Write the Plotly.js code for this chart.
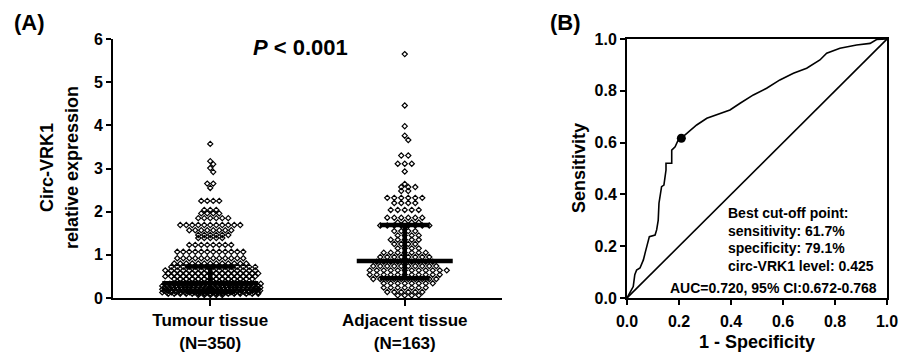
<!DOCTYPE html>
<html><head><meta charset="utf-8">
<script src="https://cdn.plot.ly/plotly-3.0.1.min.js"></script>
<style>html,body{margin:0;padding:0;background:#fff}#chart{width:899px;height:356px}</style>
</head><body><div id="chart"></div>
<script>
// ---------- Data ----------
const groupLabels = ['Tumour tissue<br>(N=350)', 'Adjacent tissue<br>(N=163)'];
const yTicksA = [0, 1, 2, 3, 4, 5, 6];
const yTicksB = [0, 0.2, 0.4, 0.6, 0.8, 1.0];
// scatter rows: value levels and number of dots at each level
const tumourLevels = [3.57,3.17,3.10,3.01,2.92,2.65,2.55,2.25,2.04,1.96,1.85,1.69,1.57,1.46,1.39,1.23,1.07,0.92,0.80,0.72,0.64,0.57,0.50,0.44,0.38,0.33,0.28,0.24,0.20,0.17,0.13,0.10,0.07];
const tumourCounts = [1,1,1,1,1,2,1,4,3,4,6,11,8,6,5,8,12,12,13,15,16,16,16,14,12,20,22,24,26,26,22,16,5];
const adjacentLevels = [5.65,4.46,3.98,3.76,3.66,3.30,3.11,2.93,2.64,2.57,2.48,2.32,2.20,2.04,1.86,1.75,1.68,1.55,1.45,1.35,1.25,1.15,1.05,0.95,0.84,0.74,0.64,0.54,0.44,0.34,0.24,0.14,0.06];
const adjacentCounts = [1,1,1,1,1,2,3,1,1,3,2,6,4,5,6,4,8,4,4,5,4,4,7,8,9,10,12,11,10,8,7,6,4];
// median with interquartile range
const medians = [0.34, 0.86];
const lowerQ = [0.14, 0.46];
const upperQ = [0.73, 1.69];
// ROC curve
const rocFPR = [0,0.012,0.024,0.03,0.037,0.05,0.063,0.07,0.076,0.086,0.108,0.114,0.12,0.123,0.133,0.142,0.15,0.15,0.172,0.172,0.185,0.197,0.209,0.23,0.268,0.307,0.358,0.396,0.435,0.486,0.537,0.588,0.64,0.691,0.742,0.768,0.819,0.883,0.935,0.96,1];
const rocTPR = [0,0.02,0.044,0.09,0.108,0.116,0.147,0.175,0.198,0.237,0.243,0.263,0.30,0.366,0.43,0.436,0.494,0.52,0.52,0.571,0.584,0.61,0.617,0.636,0.668,0.694,0.713,0.726,0.752,0.784,0.81,0.842,0.868,0.887,0.919,0.945,0.964,0.977,0.983,0.998,1];
const refLine = [0, 1];
const cutoffFPR = [0.209];
const cutoffTPR = [0.617];
const noteLines = ['Best cut-off point:', 'sensitivity: 61.7%', 'specificity: 79.1%', 'circ-VRK1 level: 0.425'];
const aucText = 'AUC=0.720, 95% CI:0.672-0.768';

// ---------- Layout geometry ----------
const W = 899, H = 356;
const FONT = 'Arial, "Liberation Sans", Helvetica, sans-serif';
const aX = [113, 502], aRange = [-0.5, 1.5];
const plotY = [39, 298];
const bX = [627, 887];
const pxPerUnitX = (aX[1]-aX[0])/(aRange[1]-aRange[0]);
const pxPerUnitY = (plotY[1]-plotY[0])/6;
const fx = p => p / W, fy = p => 1 - p / H;
const bold = s => '<b>' + s + '</b>';

function swarm(levels, counts, center, maxHalfPx, spacingPx, markerPx) {
  const xs = [], ys = [];
  let prevV = null, prevN = null, prevShift = 0;
  for (let k = 0; k < levels.length; k++) {
    const n = counts[k], v = levels[k];
    const s = n > 1 ? Math.min(spacingPx, 2*maxHalfPx/(n-1)) : spacingPx;
    let shift = 0;
    if (prevV !== null && Math.abs(v - prevV)*pxPerUnitY < markerPx && (n % 2) === (prevN % 2) && prevShift === 0) shift = s/2;
    for (let i = 0; i < n; i++) {
      xs.push(center + ((i - (n-1)/2)*s + shift)/pxPerUnitX);
      ys.push(v);
    }
    prevV = v; prevN = n; prevShift = shift;
  }
  return {xs, ys};
}
const t = swarm(tumourLevels, tumourCounts, 0, 48, 6, 5);
const a = swarm(adjacentLevels, adjacentCounts, 1, 48, 7, 5);

// median / IQR bars
const medHalf = 48/pxPerUnitX, capHalf = 25/pxPerUnitX;
const barX = [], barY = [];
[0,1].forEach(g => {
  barX.push(g-medHalf, g+medHalf, null, g-capHalf, g+capHalf, null, g-capHalf, g+capHalf, null, g, g, null);
  barY.push(medians[g], medians[g], null, lowerQ[g], lowerQ[g], null, upperQ[g], upperQ[g], null, lowerQ[g], upperQ[g], null);
});

const dotMarker = {symbol: 'diamond-open', size: 4, color: '#000', line: {width: 1.2, color: '#000'}};
const traces = [
  {x: t.xs, y: t.ys, type: 'scatter', mode: 'markers', marker: dotMarker, xaxis: 'x', yaxis: 'y', hoverinfo: 'y'},
  {x: a.xs, y: a.ys, type: 'scatter', mode: 'markers', marker: dotMarker, xaxis: 'x', yaxis: 'y', hoverinfo: 'y'},
  {x: barX, y: barY, type: 'scatter', mode: 'lines', line: {color: '#000', width: 4.5}, xaxis: 'x', yaxis: 'y', connectgaps: false, hoverinfo: 'skip'},
  {x: refLine, y: refLine, type: 'scatter', mode: 'lines', line: {color: '#000', width: 1.6}, xaxis: 'x2', yaxis: 'y2', hoverinfo: 'skip'},
  {x: rocFPR, y: rocTPR, type: 'scatter', mode: 'lines', line: {color: '#000', width: 1.6}, xaxis: 'x2', yaxis: 'y2'},
  {x: cutoffFPR, y: cutoffTPR, type: 'scatter', mode: 'markers', marker: {color: '#000', size: 9}, xaxis: 'x2', yaxis: 'y2'}
];

const axisCommon = {
  showline: true, linecolor: '#000', linewidth: 2, ticks: 'outside', ticklen: 5, tickwidth: 2, tickcolor: '#000',
  showgrid: false, zeroline: false, fixedrange: true,
  tickfont: {family: FONT, size: 16, color: '#000'}
};
const yDom = [fy(plotY[1]), fy(plotY[0])];
const layout = {
  width: W, height: H, margin: {l: 0, r: 0, t: 0, b: 0}, showlegend: false,
  paper_bgcolor: '#fff', plot_bgcolor: 'rgba(0,0,0,0)',
  font: {family: FONT, color: '#000'},
  xaxis: Object.assign({}, axisCommon, {domain: [fx(aX[0]), fx(aX[1])], range: aRange, tickvals: [0,1], ticktext: groupLabels.map(bold), ticklen: 6, anchor: 'y',
    tickfont: {family: FONT, size: 17, color: '#000'}}),
  yaxis: Object.assign({}, axisCommon, {domain: yDom, range: [0, 6], tickvals: yTicksA, ticktext: yTicksA.map(v => bold(String(v))), anchor: 'x'}),
  xaxis2: Object.assign({}, axisCommon, {domain: [fx(bX[0]), fx(bX[1])], range: [0, 1], tickvals: yTicksB, ticktext: yTicksB.map(v => bold(v.toFixed(1))), mirror: true, anchor: 'y2', ticklabelstandoff: 3}),
  yaxis2: Object.assign({}, axisCommon, {domain: yDom, range: [0, 1], tickvals: yTicksB, ticktext: yTicksB.map(v => bold(v.toFixed(1))), mirror: true, anchor: 'x2'}),
  annotations: []
};
function ann(text, x, y, size, opts) {
  layout.annotations.push(Object.assign({text: bold(text), x: fx(x), y: fy(y), xref: 'paper', yref: 'paper', showarrow: false,
    xanchor: 'center', yanchor: 'middle', font: {family: FONT, size: size, color: '#000'}}, opts || {}));
}
ann('(A)', 29, 23, 22);
ann('(B)', 565, 23, 22);
ann('<i>P</i> &lt; 0.001', 300, 47, 22);
ann('Circ-VRK1', 47, 168, 18, {textangle: -90});
ann('relative expression', 72, 168, 18, {textangle: -90});
ann('Sensitivity', 579, 168, 18, {textangle: -90});
ann('1 - Specificity', 757, 342, 18);
const noteY = [213, 231, 248, 266];
noteLines.forEach((s, i) => ann(s, 726, noteY[i], 14, {xanchor: 'left'}));
ann(aucText, 668, 287.5, 14, {xanchor: 'left'});

Plotly.newPlot('chart', traces, layout, {staticPlot: true, displayModeBar: false});
</script>
</body></html>
